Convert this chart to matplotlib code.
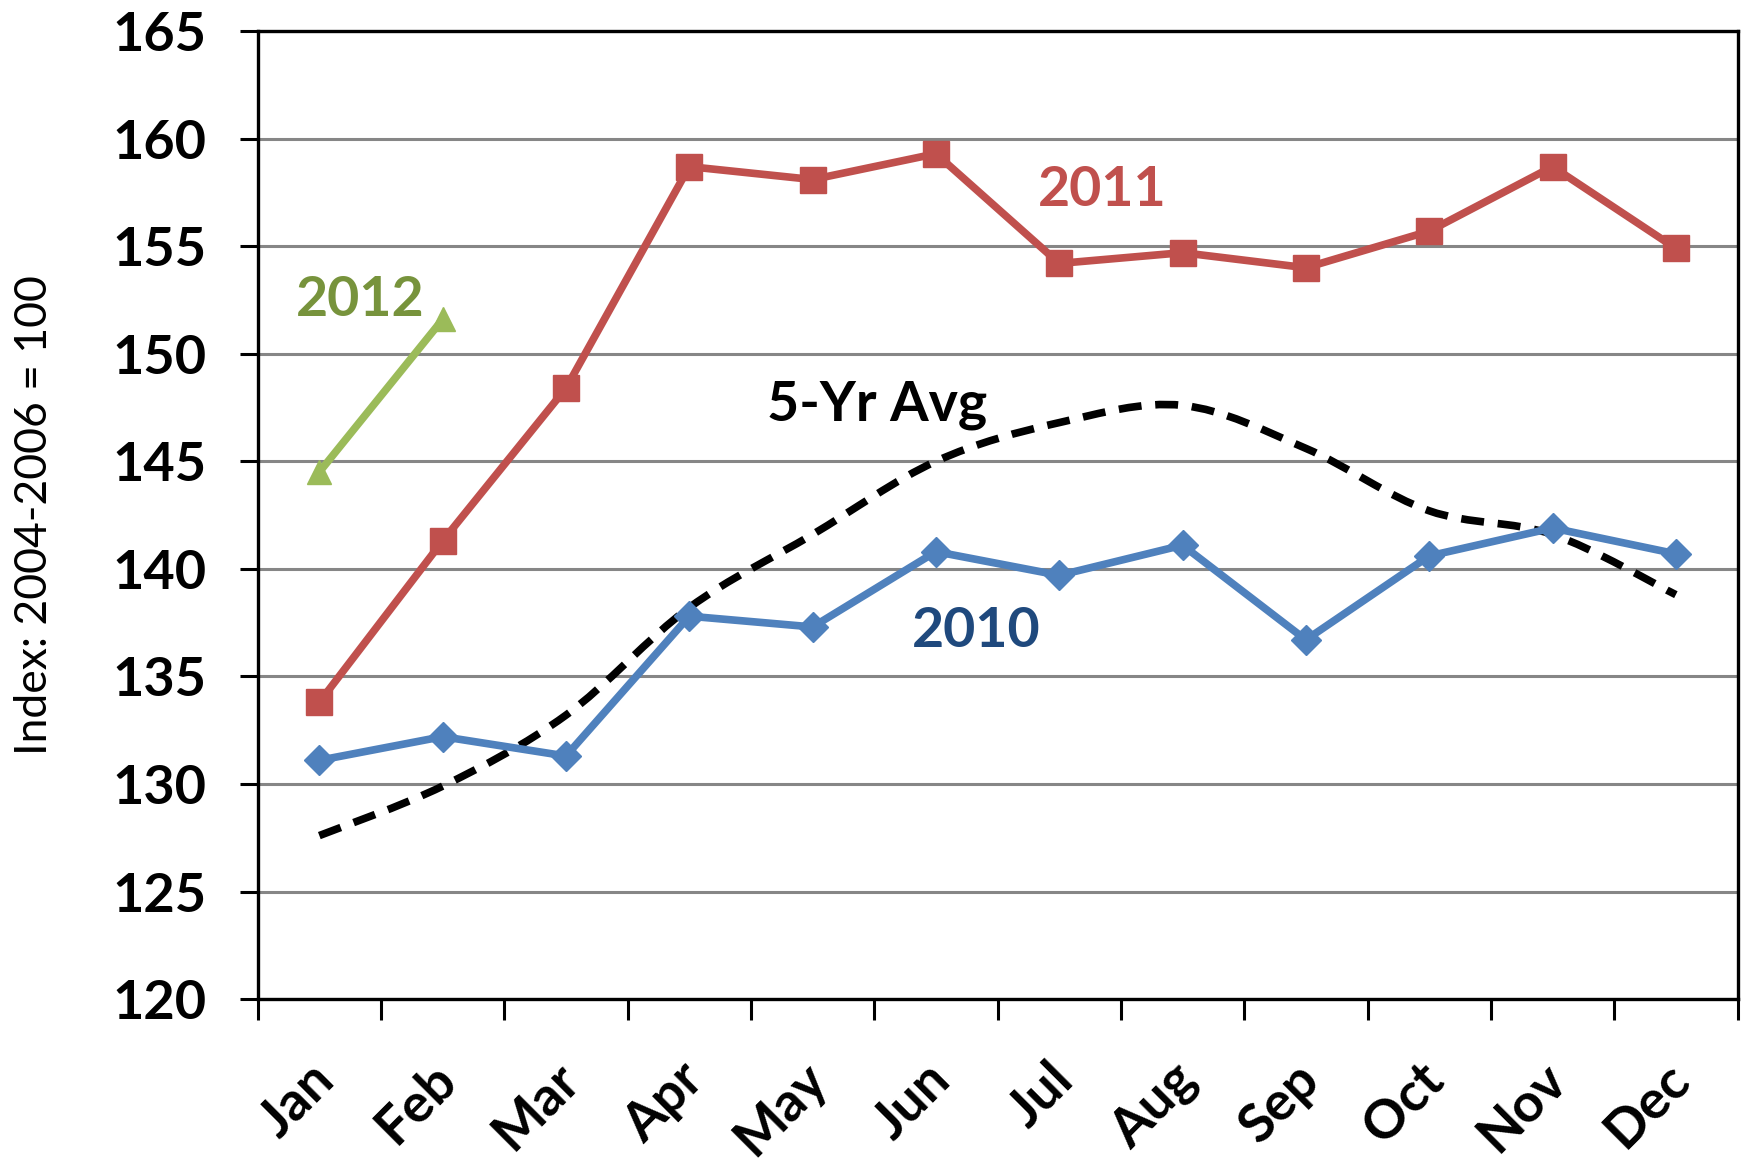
import matplotlib
matplotlib.use("Agg")
import matplotlib.pyplot as plt
from matplotlib.path import Path
from matplotlib.patches import PathPatch
import matplotlib.transforms as mtransforms
import numpy as np

months = ["Jan", "Feb", "Mar", "Apr", "May", "Jun", "Jul", "Aug", "Sep", "Oct", "Nov", "Dec"]
y2011 = [133.8, 141.3, 148.4, 158.7, 158.1, 159.3, 154.2, 154.7, 154.0, 155.7, 158.7, 154.9]
y2010 = [131.1, 132.2, 131.3, 137.8, 137.3, 140.8, 139.7, 141.1, 136.7, 140.6, 141.9, 140.7]
avg5 = [127.6, 129.9, 133.2, 138.2, 141.6, 145.0, 146.8, 147.6, 145.6, 142.7, 141.6, 138.8]
y2012 = [144.5, 151.6]
yticks = [120, 125, 130, 135, 140, 145, 150, 155, 160, 165]

plt.rcParams['font.family'] = ['Lato', 'DejaVu Sans']

fig = plt.figure(figsize=(17.41, 11.74), dpi=100)
ax = fig.add_axes([0.148, 0.149, 0.850, 0.8245])

x = np.arange(len(months))
RED = "#C0504D"
BLUE = "#4F81BD"
GREEN = "#9BBB59"
LW = 5.5

# smoothed dashed 5-yr avg (Catmull-Rom -> Bezier)
P = np.column_stack([x, avg5]).astype(float)
verts = [P[0]]
codes = [Path.MOVETO]
n = len(P)
for i in range(n - 1):
    p0 = P[i - 1] if i > 0 else P[i]
    p1 = P[i]
    p2 = P[i + 1]
    p3 = P[i + 2] if i + 2 < n else P[i + 1]
    c1 = p1 + (p2 - p0) / 6.0
    c2 = p2 - (p3 - p1) / 6.0
    verts += [c1, c2, p2]
    codes += [Path.CURVE4] * 3
patch = PathPatch(Path(verts, codes), facecolor="none", edgecolor="black",
                  lw=LW, linestyle=(0, (3.0, 1.8)), zorder=3)
ax.add_patch(patch)

ax.plot(x, y2010, color=BLUE, lw=LW, marker="D", ms=15, mec=BLUE, mfc=BLUE, zorder=4)
ax.plot(x, y2011, color=RED, lw=LW, marker="s", ms=19, mec=RED, mfc=RED, zorder=5)
ax.plot(x[:2], y2012, color=GREEN, lw=LW, marker="^", ms=17, mec=GREEN, mfc=GREEN, zorder=5)

ax.set_xlim(-0.5, 11.5)
ax.set_ylim(120, 165)
ax.set_yticks(yticks)
ax.set_yticklabels([str(v) for v in yticks], fontsize=39, fontweight="bold")
ax.yaxis.grid(True, color="#868686", lw=2.2)
ax.set_axisbelow(True)
ax.tick_params(axis="y", length=13, width=2.2, pad=24)

ax.set_xticks(x)
ax.set_xticklabels(months, rotation=45, fontsize=39, fontweight="bold",
                   ha="right", va="center", rotation_mode="anchor")
ax.tick_params(axis="x", length=0, pad=52)
offset = mtransforms.ScaledTranslation(6 / 100, 0, fig.dpi_scale_trans)
for lbl in ax.get_xticklabels():
    lbl.set_transform(lbl.get_transform() + offset)
ax.set_xticks(np.arange(-0.5, 12.0, 1.0), minor=True)
ax.tick_params(axis="x", which="minor", length=15, width=2.2)

for s in ax.spines.values():
    s.set_linewidth(2.4)
    s.set_color("black")

ax.set_ylabel("Index: 2004-2006 = 100", fontsize=32)
ax.yaxis.set_label_coords(-0.137, 0.5)

ax.text(6.35, 157.6, "2011", color=RED, fontsize=40, fontweight="bold", ha="center", va="center")
ax.text(0.33, 152.5, "2012", color="#77933C", fontsize=40, fontweight="bold", ha="center", va="center")
ax.text(4.52, 147.6, "5-Yr Avg", color="black", fontsize=40, fontweight="bold", ha="center", va="center")
ax.text(5.33, 137.1, "2010", color="#1F497D", fontsize=40, fontweight="bold", ha="center", va="center")

fig.savefig("out.png", dpi=100)
